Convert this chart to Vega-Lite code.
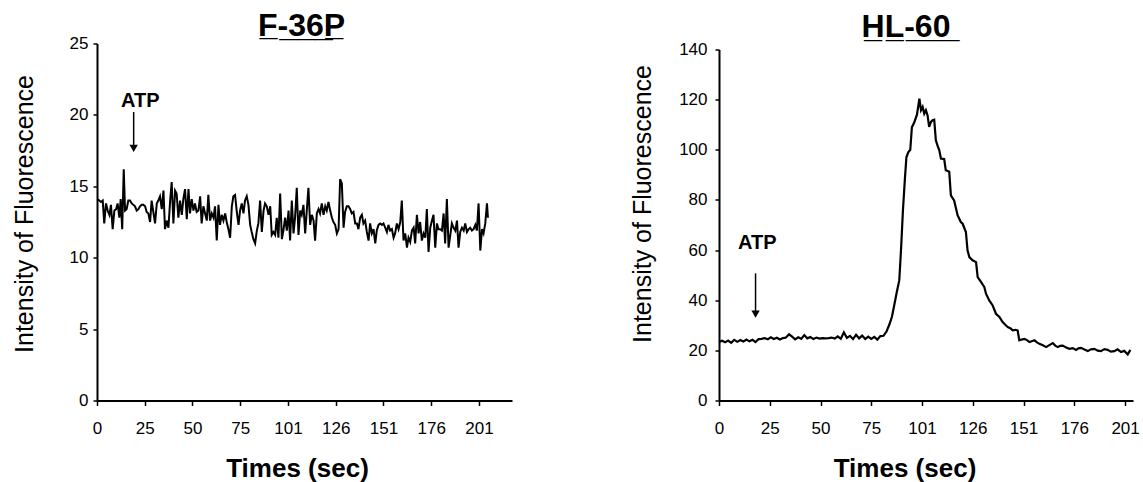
{
  "$schema": "https://vega.github.io/schema/vega-lite/v6.json",
  "background": "white",
  "padding": {"left": 12, "top": 9.5, "right": 5, "bottom": 0},
  "spacing": 118,
  "config": {
    "view": {"stroke": null},
    "font": "Liberation Sans",
    "axis": {
      "grid": false,
      "domainColor": "black",
      "domainWidth": 2,
      "tickColor": "black",
      "tickWidth": 1.5,
      "labelColor": "black",
      "titleColor": "black",
      "labelFont": "Liberation Sans",
      "titleFont": "Liberation Sans",
      "labelFontSize": 17,
      "titleFontSize": 25,
      "labelOverlap": false,
      "labelFlush": false
    }
  },
  "datasets": {
    "f36p": [
      {"t":0.3,"v":14.1},{"t":1.2,"v":14.0},{"t":2.1,"v":13.9},{"t":3.0,"v":14.0},{"t":3.8,"v":12.4},{"t":4.7,"v":13.8},{"t":5.6,"v":13.3},{"t":6.5,"v":13.0},{"t":7.3,"v":13.7},{"t":8.2,"v":12.0},
      {"t":9.1,"v":13.3},{"t":10.0,"v":13.4},{"t":10.8,"v":13.8},{"t":11.7,"v":12.8},{"t":12.4,"v":14.1},{"t":13.2,"v":12.0},{"t":14.0,"v":16.2},{"t":14.7,"v":13.3},{"t":15.5,"v":13.4},{"t":16.4,"v":14.0},
      {"t":17.3,"v":14.0},{"t":18.2,"v":13.8},{"t":19.0,"v":13.7},{"t":19.9,"v":13.6},{"t":20.8,"v":13.3},{"t":21.7,"v":13.4},{"t":22.5,"v":13.6},{"t":23.4,"v":13.7},{"t":24.3,"v":13.7},{"t":25.2,"v":13.6},
      {"t":26.0,"v":13.2},{"t":26.9,"v":13.1},{"t":27.8,"v":12.5},{"t":28.6,"v":14.0},{"t":29.5,"v":13.2},{"t":30.4,"v":12.4},{"t":31.3,"v":13.8},{"t":32.1,"v":14.0},{"t":33.0,"v":14.3},{"t":33.9,"v":13.4},
      {"t":34.8,"v":14.7},{"t":35.6,"v":12.0},{"t":36.5,"v":12.6},{"t":37.4,"v":12.1},{"t":38.3,"v":14.0},{"t":39.1,"v":15.3},{"t":40.0,"v":12.4},{"t":40.9,"v":14.7},{"t":41.7,"v":14.5},{"t":42.6,"v":12.8},
      {"t":43.5,"v":14.0},{"t":44.4,"v":13.0},{"t":45.2,"v":14.1},{"t":46.1,"v":14.8},{"t":47.0,"v":12.7},{"t":47.9,"v":14.8},{"t":48.7,"v":13.1},{"t":49.6,"v":14.1},{"t":50.5,"v":13.3},{"t":51.3,"v":13.8},
      {"t":52.2,"v":13.2},{"t":53.1,"v":13.3},{"t":54.0,"v":14.3},{"t":54.8,"v":12.4},{"t":55.7,"v":13.6},{"t":56.6,"v":13.1},{"t":57.5,"v":12.6},{"t":58.3,"v":14.4},{"t":59.2,"v":12.6},{"t":60.1,"v":13.1},
      {"t":61.0,"v":12.8},{"t":61.8,"v":13.6},{"t":62.7,"v":11.2},{"t":63.6,"v":13.7},{"t":64.4,"v":12.3},{"t":65.3,"v":13.0},{"t":66.2,"v":12.6},{"t":67.1,"v":13.1},{"t":67.9,"v":12.5},{"t":68.8,"v":12.0},
      {"t":69.7,"v":11.4},{"t":70.6,"v":13.6},{"t":71.4,"v":14.3},{"t":72.3,"v":14.4},{"t":73.2,"v":13.2},{"t":74.1,"v":12.3},{"t":74.9,"v":13.3},{"t":75.8,"v":13.8},{"t":76.7,"v":13.1},{"t":77.5,"v":14.0},
      {"t":78.4,"v":14.3},{"t":79.3,"v":13.7},{"t":80.2,"v":12.3},{"t":81.0,"v":11.8},{"t":81.9,"v":11.3},{"t":82.8,"v":11.0},{"t":83.7,"v":11.9},{"t":84.5,"v":12.4},{"t":85.4,"v":14.0},{"t":86.3,"v":11.8},
      {"t":87.2,"v":13.3},{"t":88.0,"v":13.8},{"t":88.9,"v":13.6},{"t":89.8,"v":13.0},{"t":90.7,"v":13.6},{"t":91.5,"v":11.6},{"t":92.4,"v":11.8},{"t":93.3,"v":11.6},{"t":94.1,"v":12.8},{"t":95.0,"v":11.4},
      {"t":95.9,"v":14.5},{"t":96.8,"v":11.3},{"t":97.6,"v":11.9},{"t":98.5,"v":12.8},{"t":99.4,"v":11.9},{"t":100.3,"v":13.3},{"t":101.1,"v":11.2},{"t":102.0,"v":14.0},{"t":102.9,"v":11.7},{"t":103.7,"v":12.8},
      {"t":104.6,"v":14.9},{"t":105.5,"v":11.6},{"t":106.4,"v":13.3},{"t":107.2,"v":13.0},{"t":108.1,"v":13.7},{"t":109.0,"v":11.7},{"t":109.9,"v":13.4},{"t":110.7,"v":14.9},{"t":111.6,"v":12.3},{"t":112.5,"v":13.0},
      {"t":113.4,"v":12.6},{"t":114.2,"v":11.2},{"t":115.1,"v":13.1},{"t":116.0,"v":13.4},{"t":116.8,"v":13.1},{"t":117.7,"v":13.8},{"t":118.6,"v":13.0},{"t":119.5,"v":13.6},{"t":120.3,"v":13.3},{"t":121.2,"v":13.9},
      {"t":122.1,"v":13.3},{"t":123.0,"v":12.8},{"t":123.8,"v":12.5},{"t":124.7,"v":12.3},{"t":125.6,"v":11.7},{"t":126.5,"v":12.0},{"t":127.3,"v":15.5},{"t":128.2,"v":15.2},{"t":129.1,"v":12.1},{"t":129.9,"v":13.2},
      {"t":130.8,"v":13.6},{"t":131.7,"v":13.6},{"t":132.6,"v":13.4},{"t":133.4,"v":13.1},{"t":134.3,"v":13.2},{"t":135.2,"v":12.4},{"t":136.1,"v":12.4},{"t":136.9,"v":12.0},{"t":137.8,"v":12.8},{"t":138.7,"v":13.0},
      {"t":139.5,"v":12.4},{"t":140.4,"v":12.6},{"t":141.3,"v":11.8},{"t":142.2,"v":11.2},{"t":143.0,"v":12.4},{"t":143.9,"v":11.7},{"t":144.8,"v":12.0},{"t":145.7,"v":11.0},{"t":146.5,"v":11.9},{"t":147.4,"v":12.3},
      {"t":148.3,"v":12.4},{"t":149.2,"v":12.3},{"t":150.0,"v":12.4},{"t":150.9,"v":12.1},{"t":151.8,"v":11.8},{"t":152.6,"v":12.3},{"t":153.5,"v":11.9},{"t":154.4,"v":12.0},{"t":155.3,"v":11.4},{"t":156.1,"v":11.7},
      {"t":157.0,"v":12.4},{"t":157.9,"v":12.0},{"t":158.8,"v":12.5},{"t":159.6,"v":14.0},{"t":160.5,"v":11.2},{"t":161.4,"v":11.7},{"t":162.3,"v":10.7},{"t":163.1,"v":11.4},{"t":164.0,"v":11.1},{"t":164.9,"v":11.9},
      {"t":165.8,"v":12.1},{"t":166.6,"v":11.0},{"t":167.5,"v":13.0},{"t":168.4,"v":11.7},{"t":169.2,"v":12.5},{"t":170.1,"v":11.2},{"t":171.0,"v":11.7},{"t":171.9,"v":11.4},{"t":172.7,"v":13.4},{"t":173.6,"v":10.4},
      {"t":174.5,"v":12.1},{"t":175.4,"v":12.6},{"t":176.2,"v":13.0},{"t":177.1,"v":10.7},{"t":178.0,"v":12.4},{"t":178.8,"v":12.0},{"t":179.7,"v":12.0},{"t":180.6,"v":11.9},{"t":181.5,"v":13.1},{"t":182.3,"v":11.0},
      {"t":183.2,"v":14.1},{"t":184.1,"v":10.7},{"t":185.0,"v":11.6},{"t":185.8,"v":12.4},{"t":186.7,"v":12.1},{"t":187.6,"v":11.9},{"t":188.5,"v":12.6},{"t":189.3,"v":10.7},{"t":190.2,"v":11.8},{"t":191.1,"v":12.1},
      {"t":192.0,"v":11.9},{"t":192.8,"v":12.4},{"t":193.7,"v":11.8},{"t":194.6,"v":12.0},{"t":195.4,"v":12.1},{"t":196.3,"v":11.9},{"t":197.2,"v":12.0},{"t":198.1,"v":12.3},{"t":198.9,"v":11.9},{"t":199.8,"v":13.8},
      {"t":200.7,"v":10.5},{"t":201.6,"v":12.0},{"t":202.4,"v":11.7},{"t":203.3,"v":12.4},{"t":204.2,"v":13.8},{"t":204.7,"v":12.8}
    ],
    "hl60": [
      {"t":0,"v":23.3},{"t":1.5,"v":23.8},{"t":3,"v":23.2},{"t":4.5,"v":23.9},{"t":6,"v":23.0},{"t":7.5,"v":24.2},{"t":9,"v":23.4},{"t":10.5,"v":24.1},{"t":12,"v":23.5},{"t":13.5,"v":24.3},
      {"t":15,"v":23.6},{"t":16.5,"v":24.2},{"t":18,"v":23.3},{"t":19.5,"v":24.5},{"t":21,"v":24.6},{"t":22.5,"v":24.9},{"t":24,"v":24.4},{"t":25.5,"v":25.2},{"t":27,"v":24.5},{"t":28.5,"v":25.0},
      {"t":30,"v":24.3},{"t":31.5,"v":24.9},{"t":33,"v":25.1},{"t":34.5,"v":26.4},{"t":36,"v":25.5},{"t":37.5,"v":24.4},{"t":39,"v":25.2},{"t":40.5,"v":24.6},{"t":42,"v":26.1},{"t":43.5,"v":24.8},
      {"t":45,"v":25.3},{"t":46.5,"v":24.5},{"t":48,"v":25.1},{"t":49.5,"v":24.7},{"t":51,"v":24.9},{"t":52.5,"v":24.8},{"t":54,"v":24.9},{"t":55.5,"v":25.1},{"t":57,"v":24.7},{"t":58.5,"v":25.6},
      {"t":60,"v":24.6},{"t":61.5,"v":27.2},{"t":63,"v":25.0},{"t":64.5,"v":25.8},{"t":66,"v":24.5},{"t":67.5,"v":26.2},{"t":69,"v":24.8},{"t":70.5,"v":25.9},{"t":72,"v":24.5},{"t":73.5,"v":25.5},
      {"t":75,"v":24.6},{"t":76.5,"v":25.4},{"t":78,"v":24.3},{"t":79.5,"v":25.7},{"t":81,"v":25.8},{"t":82.5,"v":27.5},{"t":84,"v":30.5},{"t":85.2,"v":33.5},{"t":86.3,"v":38},{"t":87.5,"v":43},
      {"t":88.8,"v":48},{"t":89.7,"v":61},{"t":90.6,"v":76},{"t":91.6,"v":89},{"t":92.3,"v":97},{"t":93.2,"v":99},{"t":94.2,"v":100},{"t":95,"v":109},{"t":96.2,"v":111},{"t":97.5,"v":114},
      {"t":98.7,"v":120.4},{"t":99.5,"v":115.8},{"t":100.3,"v":117.1},{"t":101.1,"v":114.4},{"t":101.9,"v":115.8},{"t":102.7,"v":113.8},{"t":103.5,"v":109.1},{"t":104.4,"v":111.1},{"t":105.2,"v":111.8},{"t":106,"v":112},
      {"t":106.8,"v":103.8},{"t":107.6,"v":101.8},{"t":108.5,"v":99.8},{"t":109.3,"v":96.5},{"t":110.9,"v":96.3},{"t":111.7,"v":91.8},{"t":113.4,"v":91.2},{"t":114.2,"v":81.8},{"t":115.8,"v":79.8},{"t":117.5,"v":73.9},
      {"t":119.1,"v":71.2},{"t":120,"v":70.5},{"t":121.6,"v":67.2},{"t":122.4,"v":59.9},{"t":123.3,"v":57.2},{"t":124.9,"v":55.9},{"t":126.6,"v":55.2},{"t":127.4,"v":49.2},{"t":129.1,"v":47.2},{"t":130.7,"v":45.2},
      {"t":131.5,"v":42.6},{"t":133.1,"v":39.9},{"t":134.8,"v":37.9},{"t":136.4,"v":34.6},{"t":138.1,"v":33.3},{"t":139.7,"v":31.3},{"t":141,"v":30.2},{"t":142.2,"v":29.3},{"t":143.5,"v":28.8},{"t":144.7,"v":28.0},
      {"t":146,"v":28.2},{"t":147.1,"v":27.9},{"t":147.9,"v":24.0},{"t":149,"v":24.3},{"t":150.4,"v":24.6},{"t":151.7,"v":24.1},{"t":152.9,"v":23.3},{"t":154,"v":23.6},{"t":155.4,"v":24.0},{"t":156.6,"v":23.2},
      {"t":157.8,"v":22.6},{"t":159.5,"v":22.0},{"t":161.1,"v":21.3},{"t":162.7,"v":22.1},{"t":164.4,"v":22.9},{"t":165.6,"v":21.9},{"t":166.9,"v":21.3},{"t":168,"v":21.8},{"t":169.3,"v":21.9},{"t":171,"v":21.1},
      {"t":172.6,"v":20.6},{"t":174.2,"v":20.9},{"t":175.9,"v":20.2},{"t":177,"v":20.8},{"t":178.3,"v":21.0},{"t":180,"v":20.3},{"t":181.6,"v":19.7},{"t":183.2,"v":20.4},{"t":184.9,"v":20.6},{"t":186.5,"v":19.9},
      {"t":188.1,"v":19.7},{"t":189.8,"v":20.5},{"t":191.4,"v":20.2},{"t":193,"v":19.5},{"t":194.7,"v":19.7},{"t":196.3,"v":20.4},{"t":198,"v":19.3},{"t":199.6,"v":19.8},{"t":201.3,"v":18.4},{"t":202.6,"v":20.2}
    ],
    "atpTextL": [{"t":22.7,"v":20.55,"label":"ATP"}],
    "atpArrowL": [{"t":19.2,"v":17.66,"vtop":20.2,"vend":17.9}],
    "atpTextR": [{"t":18.9,"v":60.6,"label":"ATP"}],
    "atpArrowR": [{"t":18.0,"v":34.5,"vtop":50.7,"vend":35.5}]
  },
  "hconcat": [
    {
      "width": 415,
      "height": 357,
      "title": {"text": "F\u0332-\u03323\u03326\u0332P\u0332", "fontSize": 32, "fontWeight": "bold", "font": "Liberation Sans", "color": "black", "frame": "group", "anchor": "middle", "dx": -3, "offset": -8},
      "layer": [
        {
          "data": {"name": "f36p"},
          "mark": {"type": "line", "color": "black", "strokeWidth": 2},
          "encoding": {
            "x": {"field": "t", "type": "quantitative", "scale": {"domain": [0, 217.3], "nice": false, "zero": false},
                  "axis": {"title": "Times (sec)", "values": [0, 25, 50, 75, 100, 125, 150, 175, 200],
                           "labelExpr": "datum.value < 100 ? datum.label : '' + (datum.value + 1)",
                           "titleFontWeight": "bold", "titleFontSize": 26, "titleX": 200, "titleY": 76, "titleBaseline": "alphabetic", "titleAlign": "center", "titleAnchor": null,
                           "tickSize": 5, "labelPadding": 15}},
            "y": {"field": "v", "type": "quantitative", "scale": {"domain": [0, 25], "nice": false},
                  "axis": {"title": "Intensity of Fluorescence", "values": [0, 5, 10, 15, 20, 25],
                           "titleFontWeight": "normal", "titleAngle": 270, "titleX": -64.5, "titleY": 170, "titleBaseline": "alphabetic", "titleAlign": "center", "titleAnchor": null,
                           "tickSize": 4, "labelPadding": 5}}
          }
        },
        {
          "data": {"name": "atpArrowL"},
          "mark": {"type": "rule", "color": "black", "strokeWidth": 1.5},
          "encoding": {"x": {"field": "t", "type": "quantitative"}, "y": {"field": "vtop", "type": "quantitative"}, "y2": {"field": "vend"}}
        },
        {
          "data": {"name": "atpArrowL"},
          "mark": {"type": "point", "shape": "triangle-down", "filled": true, "color": "black", "size": 70, "opacity": 1},
          "encoding": {"x": {"field": "t", "type": "quantitative"}, "y": {"field": "v", "type": "quantitative"}}
        },
        {
          "data": {"name": "atpTextL"},
          "mark": {"type": "text", "fontSize": 20, "fontWeight": "bold", "font": "Liberation Sans", "color": "black", "align": "center", "baseline": "alphabetic"},
          "encoding": {"x": {"field": "t", "type": "quantitative"}, "y": {"field": "v", "type": "quantitative"}, "text": {"field": "label"}}
        }
      ]
    },
    {
      "width": 414,
      "height": 357,
      "title": {"text": "H\u0332L\u0332-\u03326\u03320\u0332", "fontSize": 32, "fontWeight": "bold", "font": "Liberation Sans", "color": "black", "frame": "group", "anchor": "middle", "dx": -20, "offset": -3.5},
      "layer": [
        {
          "data": {"name": "hl60"},
          "mark": {"type": "line", "color": "black", "strokeWidth": 2.2},
          "encoding": {
            "x": {"field": "t", "type": "quantitative", "scale": {"domain": [0, 203.9], "nice": false, "zero": false},
                  "axis": {"title": "Times (sec)", "values": [0, 25, 50, 75, 100, 125, 150, 175, 200],
                           "labelExpr": "datum.value < 100 ? datum.label : '' + (datum.value + 1)",
                           "titleFontWeight": "bold", "titleFontSize": 26, "titleX": 185.5, "titleY": 76, "titleBaseline": "alphabetic", "titleAlign": "center", "titleAnchor": null,
                           "tickSize": 5, "labelPadding": 15}},
            "y": {"field": "v", "type": "quantitative", "scale": {"domain": [0, 140], "nice": false, "range": [357, 6]},
                  "axis": {"title": "Intensity of Fluorescence", "values": [0, 20, 40, 60, 80, 100, 120, 140],
                           "titleFontWeight": "normal", "titleAngle": 270, "titleX": -69, "titleY": 160, "titleBaseline": "alphabetic", "titleAlign": "center", "titleAnchor": null,
                           "tickSize": 4, "labelPadding": 8}}
          }
        },
        {
          "data": {"name": "atpArrowR"},
          "mark": {"type": "rule", "color": "black", "strokeWidth": 1.5},
          "encoding": {"x": {"field": "t", "type": "quantitative"}, "y": {"field": "vtop", "type": "quantitative"}, "y2": {"field": "vend"}}
        },
        {
          "data": {"name": "atpArrowR"},
          "mark": {"type": "point", "shape": "triangle-down", "filled": true, "color": "black", "size": 70, "opacity": 1},
          "encoding": {"x": {"field": "t", "type": "quantitative"}, "y": {"field": "v", "type": "quantitative"}}
        },
        {
          "data": {"name": "atpTextR"},
          "mark": {"type": "text", "fontSize": 20, "fontWeight": "bold", "font": "Liberation Sans", "color": "black", "align": "center", "baseline": "alphabetic"},
          "encoding": {"x": {"field": "t", "type": "quantitative"}, "y": {"field": "v", "type": "quantitative"}, "text": {"field": "label"}}
        }
      ]
    }
  ]
}
